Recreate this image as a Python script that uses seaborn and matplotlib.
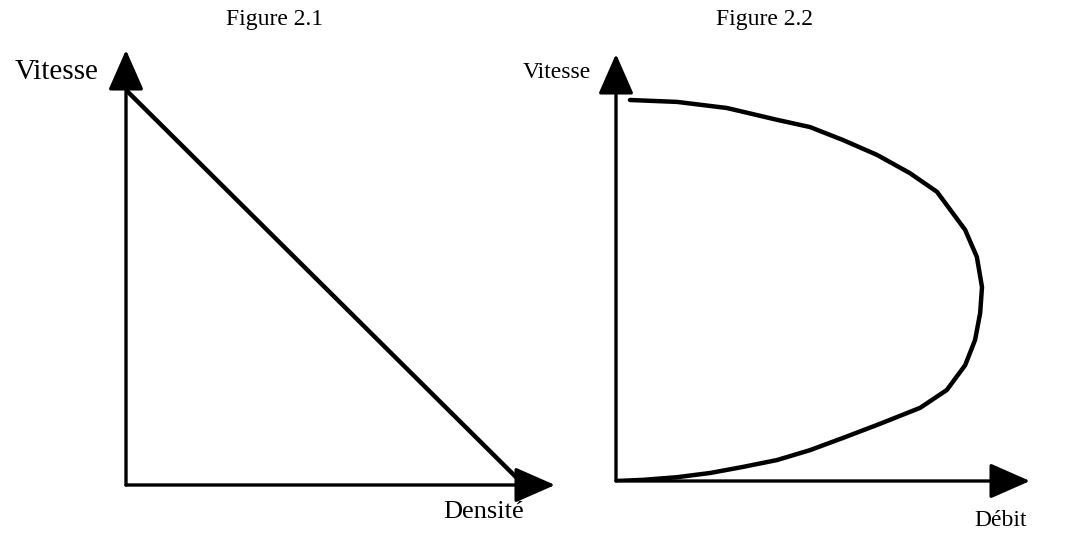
import numpy as np
import pandas as pd
import seaborn as sns
import matplotlib.pyplot as plt

# # # DATA (normalised 0..1) # # #
densite = [0.0, 1.0]
vitesse_21 = [1.0, 0.0]

debit = [0.038, 0.167, 0.303, 0.440, 0.530, 0.620, 0.713, 0.803, 0.877, 0.904, 0.954, 0.986,
         1.0, 0.995, 0.981, 0.954, 0.904, 0.831, 0.713, 0.620, 0.530, 0.440, 0.347, 0.257,
         0.167, 0.074, 0.0]
vitesse_22 = [1.0, 0.995, 0.979, 0.948, 0.929, 0.895, 0.856, 0.808, 0.759, 0.724, 0.659, 0.588,
              0.509, 0.441, 0.370, 0.304, 0.239, 0.192, 0.147, 0.113, 0.081, 0.055, 0.037, 0.021,
              0.010, 0.003, 0.0]

titles = ["Figure 2.1", "Figure 2.2"]
x_labels = ["Densité", "Débit"]
y_label = "Vitesse"

sns.set_theme(style="white")
plt.rcParams['font.family'] = ['Liberation Serif', 'DejaVu Serif']
plt.rcParams['text.color'] = 'black'

W, H = 1068, 539
fig = plt.figure(figsize=(W / 100, H / 100), dpi=100)


def px_axes(x0, x1, y_bottom, y_top):
    return fig.add_axes([x0 / W, 1 - y_bottom / H, (x1 - x0) / W, (y_bottom - y_top) / H])


def draw_arrows(ax, xmax, ymax):
    arrow = dict(arrowstyle="-|>,head_length=1.25,head_width=0.55", mutation_scale=20,
                 lw=2.4, color="black", shrinkA=0, shrinkB=0)
    ax.annotate("", xy=(xmax, 0), xytext=(0, 0), arrowprops=arrow, annotation_clip=False)
    ax.annotate("", xy=(0, ymax), xytext=(0, 0), arrowprops=arrow, annotation_clip=False)


# # # FIGURE 2.1 : vitesse / densite # # #
ax1 = px_axes(126, 560, 485, 48)
ax1.set_xlim(0, 434 / 398)
ax1.set_ylim(0, 437 / 395)
sns.lineplot(x=densite, y=vitesse_21, ax=ax1, color="black", lw=3.2, sort=False, estimator=None)
draw_arrows(ax1, 429 / 398, 435 / 395)
ax1.axis("off")

# # # FIGURE 2.2 : vitesse / debit # # #
ax2 = px_axes(616, 1040, 481, 48)
ax2.set_xlim(0, 424 / 366)
ax2.set_ylim(0, 433 / 381)
sns.lineplot(x=debit, y=vitesse_22, ax=ax2, color="black", lw=3.2, sort=False, estimator=None)
draw_arrows(ax2, 414 / 366, 427 / 381)
ax2.axis("off")

# # # TEXT # # #
fig.text(275 / W, 1 - 19 / H, titles[0], ha="center", va="center", fontsize=17, color="black")
fig.text(765 / W, 1 - 19 / H, titles[1], ha="center", va="center", fontsize=17, color="black")
fig.text(99 / W, 1 - 72 / H, y_label, ha="right", va="center", fontsize=21, color="black")
fig.text(591 / W, 1 - 72 / H, y_label, ha="right", va="center", fontsize=17, color="black")
fig.text(484 / W, 1 - 512 / H, x_labels[0], ha="center", va="center", fontsize=19, color="black")
fig.text(1001 / W, 1 - 520 / H, x_labels[1], ha="center", va="center", fontsize=17, color="black")

fig.savefig("out.png", dpi=100, facecolor="white")
